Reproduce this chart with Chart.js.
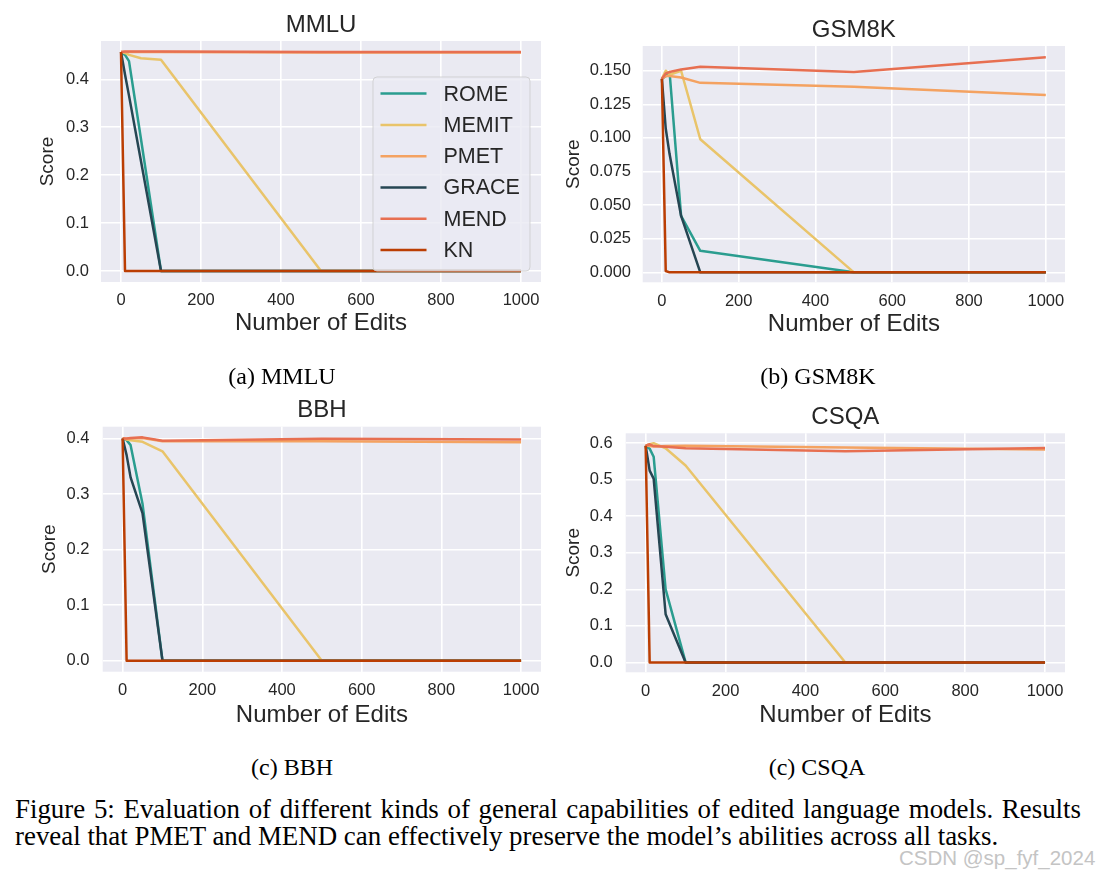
<!DOCTYPE html>
<html><head><meta charset="utf-8">
<script src="https://cdn.jsdelivr.net/npm/chart.js@4.4.1/dist/chart.umd.min.js"></script>
<style>
html,body{margin:0;padding:0;background:#fff;}
body{width:1106px;height:878px;position:relative;overflow:hidden;}
canvas{position:absolute;}
.cap{position:absolute;font-family:"Liberation Serif","Times New Roman",serif;font-size:24px;line-height:24px;color:#000;white-space:nowrap;}
.sub{text-align:center;width:300px;}
.fig{font-size:26.9px;line-height:26.9px;}
</style></head><body>
<canvas id="c0" width="560" height="345" style="left:0;top:0"></canvas>
<canvas id="c1" width="546" height="345" style="left:560px;top:0"></canvas>
<canvas id="c2" width="560" height="350" style="left:0;top:385px"></canvas>
<canvas id="c3" width="546" height="350" style="left:560px;top:385px"></canvas>
<div class="cap sub" style="left:132px;top:364px">(a) MMLU</div>
<div class="cap sub" style="left:668px;top:364px">(b) GSM8K</div>
<div class="cap sub" style="left:142px;top:755px">(c) BBH</div>
<div class="cap sub" style="left:667px;top:755px">(c) CSQA</div>
<div class="cap fig" id="line1" style="left:15px;top:796px">Figure 5: Evaluation of different kinds of general capabilities of edited language models. Results</div>
<div class="cap fig" style="left:15px;top:823px">reveal that PMET and MEND can effectively preserve the model’s abilities across all tasks.</div>
<div style="position:absolute;left:899px;top:847px;font-family:'Liberation Sans',Arial,sans-serif;font-size:20.5px;line-height:22px;color:#c4c4c4;white-space:nowrap">CSDN @sp_fyf_2024</div>
<script>
// ---------- data ----------
const edits = [0, 10, 20, 50, 100, 500, 1000];
const methods = ['ROME', 'MEMIT', 'PMET', 'GRACE', 'MEND', 'KN'];
const xTickLabels = ['0', '200', '400', '600', '800', '1000'];

const mmluROME  = [0.457, 0.451, 0.438, 0.275, 0.0, 0.0, 0.0];
const mmluMEMIT = [0.457, 0.455, 0.451, 0.444, 0.441, 0.0, 0.0];
const mmluPMET  = [0.457, 0.457, 0.457, 0.457, 0.457, 0.456, 0.456];
const mmluGRACE = [0.457, 0.410, 0.366, 0.229, 0.0, 0.0, 0.0];
const mmluMEND  = [0.457, 0.458, 0.458, 0.458, 0.458, 0.457, 0.457];
const mmluKN    = [0.457, 0.0, 0.0, 0.0, 0.0, 0.0, 0.0];
const mmluYTicks = ['0.0', '0.1', '0.2', '0.3', '0.4'];

const gsmROME  = [0.144, 0.146, 0.149, 0.042, 0.016, 0.0, 0.0];
const gsmMEMIT = [0.144, 0.150, 0.147, 0.150, 0.099, 0.0, 0.0];
const gsmPMET  = [0.144, 0.146, 0.146, 0.145, 0.141, 0.138, 0.132];
const gsmGRACE = [0.144, 0.107, 0.088, 0.042, 0.0, 0.0, 0.0];
const gsmMEND  = [0.144, 0.148, 0.149, 0.151, 0.153, 0.149, 0.160];
const gsmKN    = [0.144, 0.001, 0.0, 0.0, 0.0, 0.0, 0.0];
const gsmYTicks = ['0.000', '0.025', '0.050', '0.075', '0.100', '0.125', '0.150'];

const bbhROME  = [0.400, 0.397, 0.388, 0.282, 0.0, 0.0, 0.0];
const bbhMEMIT = [0.400, 0.398, 0.397, 0.394, 0.377, 0.0, 0.0];
const bbhPMET  = [0.400, 0.399, 0.400, 0.401, 0.395, 0.395, 0.393];
const bbhGRACE = [0.400, 0.370, 0.330, 0.265, 0.0, 0.0, 0.0];
const bbhMEND  = [0.400, 0.400, 0.401, 0.402, 0.396, 0.3995, 0.398];
const bbhKN    = [0.400, 0.0, 0.0, 0.0, 0.0, 0.0, 0.0];
const bbhYTicks = ['0.0', '0.1', '0.2', '0.3', '0.4'];

const csqaROME  = [0.593, 0.585, 0.563, 0.200, 0.0, 0.0, 0.0];
const csqaMEMIT = [0.593, 0.597, 0.600, 0.586, 0.539, 0.0, 0.0];
const csqaPMET  = [0.593, 0.592, 0.591, 0.592, 0.593, 0.588, 0.583];
const csqaGRACE = [0.593, 0.525, 0.503, 0.132, 0.0, 0.0, 0.0];
const csqaMEND  = [0.593, 0.597, 0.592, 0.590, 0.586, 0.578, 0.587];
const csqaKN    = [0.593, 0.0, 0.0, 0.0, 0.0, 0.0, 0.0];
const csqaYTicks = ['0.0', '0.1', '0.2', '0.3', '0.4', '0.5', '0.6'];

// ---------- style ----------
const colors = ['#2a9d8f', '#e9c46a', '#f4a261', '#264653', '#e76f51', '#bb3e03'];
const FONT = '"Liberation Sans", Arial, sans-serif';
const TXT = '#262626';

// justify first caption line to the target width
(function () {
  const el = document.getElementById('line1');
  const target = 1066;
  const w = el.getBoundingClientRect().width;
  const spaces = (el.textContent.match(/ /g) || []).length;
  el.style.wordSpacing = ((target - w) / spaces) + 'px';
})();

const bgPlugin = {
  id: 'bg',
  beforeDraw(chart) {
    const {ctx, chartArea: a} = chart;
    ctx.save();
    ctx.fillStyle = '#eaeaf2';
    ctx.fillRect(a.left, a.top, a.right - a.left, a.bottom - a.top);
    ctx.restore();
  }
};

const innerLegend = {
  id: 'innerLegend',
  afterDraw(chart, args, opts) {
    if (!opts.show) return;
    const {ctx, chartArea: a} = chart;
    const w = 157, h = 194;
    const x0 = a.right - 11 - w, y0 = a.bottom - 11 - h;
    ctx.save();
    ctx.beginPath();
    const r = 4;
    ctx.moveTo(x0 + r, y0);
    ctx.arcTo(x0 + w, y0, x0 + w, y0 + h, r);
    ctx.arcTo(x0 + w, y0 + h, x0, y0 + h, r);
    ctx.arcTo(x0, y0 + h, x0, y0, r);
    ctx.arcTo(x0, y0, x0 + w, y0, r);
    ctx.closePath();
    ctx.fillStyle = 'rgba(234,234,242,0.8)';
    ctx.fill();
    ctx.strokeStyle = 'rgba(204,204,204,0.8)';
    ctx.lineWidth = 1;
    ctx.stroke();
    ctx.font = '21.5px ' + FONT;
    ctx.textBaseline = 'middle';
    ctx.textAlign = 'left';
    chart.data.datasets.forEach((ds, i) => {
      const yy = y0 + 16.6 + i * 31.3;
      ctx.strokeStyle = ds.borderColor;
      ctx.lineWidth = 2.5;
      ctx.beginPath();
      ctx.moveTo(x0 + 7.5, yy);
      ctx.lineTo(x0 + 53.5, yy);
      ctx.stroke();
      ctx.fillStyle = TXT;
      ctx.fillText(ds.label, x0 + 70.5, yy + 1);
    });
    ctx.restore();
  }
};

function makeChart(id, title, series, yTickLabels, yMin, yMax, L, showLegend) {
  const yVals = yTickLabels.map(parseFloat);
  new Chart(document.getElementById(id), {
    type: 'line',
    data: {
      datasets: methods.map((m, i) => ({
        label: m,
        data: edits.map((x, j) => ({x: x, y: series[i][j]})),
        borderColor: colors[i],
        backgroundColor: colors[i],
        borderWidth: 2.5,
        pointRadius: 0,
        tension: 0,
        fill: false,
        borderJoinStyle: 'round',
        order: methods.length - 1 - i
      }))
    },
    options: {
      responsive: false,
      animation: false,
      events: [],
      layout: {padding: {left: 0, right: L.pr, top: 0, bottom: 0}},
      plugins: {
        legend: {display: false},
        tooltip: {enabled: false},
        title: {
          display: true, text: title, fullSize: false, color: TXT,
          font: {family: FONT, size: 24, weight: 'normal'},
          padding: {top: L.tTop, bottom: L.tBot}
        },
        innerLegend: {show: showLegend}
      },
      scales: {
        x: {
          type: 'linear', min: -50, max: 1050,
          afterFit: s => { s.height = L.xh; },
          afterBuildTicks: s => { s.ticks = xTickLabels.map(t => ({value: parseFloat(t)})); },
          grid: {color: '#ffffff', lineWidth: 1.6, drawTicks: false},
          border: {display: false},
          ticks: {
            padding: 9, maxRotation: 0, autoSkip: false, color: TXT,
            font: {family: FONT, size: 16.5},
            callback: (v, i) => xTickLabels[i]
          },
          title: {
            display: true, text: 'Number of Edits', color: TXT,
            font: {family: FONT, size: 24},
            padding: {top: 0, bottom: L.xtb}
          }
        },
        y: {
          type: 'linear', min: yMin, max: yMax,
          afterFit: s => { s.width = L.yw; },
          afterBuildTicks: s => { s.ticks = yVals.map(v => ({value: v})); },
          grid: {color: '#ffffff', lineWidth: 1.6, drawTicks: false},
          border: {display: false},
          ticks: {
            padding: L.ytp, autoSkip: false, color: TXT,
            font: {family: FONT, size: 16.5},
            callback: (v, i) => yTickLabels[i]
          },
          title: {
            display: true, text: 'Score', color: TXT,
            font: {family: FONT, size: 19},
            padding: {top: L.ytt, bottom: 0}
          }
        }
      }
    },
    plugins: [bgPlugin, innerLegend]
  });
}

makeChart('c0', 'MMLU', [mmluROME, mmluMEMIT, mmluPMET, mmluGRACE, mmluMEND, mmluKN], mmluYTicks,
  -0.023, 0.480, {pr: 19, yw: 101, xh: 63, tTop: 10.6, tBot: 1.6, ytt: 36.6, ytp: 12, xtb: 7.1}, true);
makeChart('c1', 'GSM8K', [gsmROME, gsmMEMIT, gsmPMET, gsmGRACE, gsmMEND, gsmKN], gsmYTicks,
  -0.0074, 0.1684, {pr: 41, yw: 82.7, xh: 62.7, tTop: 15.6, tBot: 1.6, ytt: 1.9, ytp: 11.7, xtb: 6.6}, false);
makeChart('c2', 'BBH', [bbhROME, bbhMEMIT, bbhPMET, bbhGRACE, bbhMEND, bbhKN], bbhYTicks,
  -0.0198, 0.4212, {pr: 19, yw: 102.7, xh: 63.3, tTop: 11.3, tBot: 1.6, ytt: 38.1, ytp: 13.3, xtb: 5.6}, false);
makeChart('c3', 'CSQA', [csqaROME, csqaMEMIT, csqaPMET, csqaGRACE, csqaMEND, csqaKN], csqaYTicks,
  -0.027, 0.627, {pr: 41, yw: 65.7, xh: 62.7, tTop: 17.9, tBot: 1.6, ytt: 1.9, ytp: 13, xtb: 5.6}, false);
</script>
</body></html>
